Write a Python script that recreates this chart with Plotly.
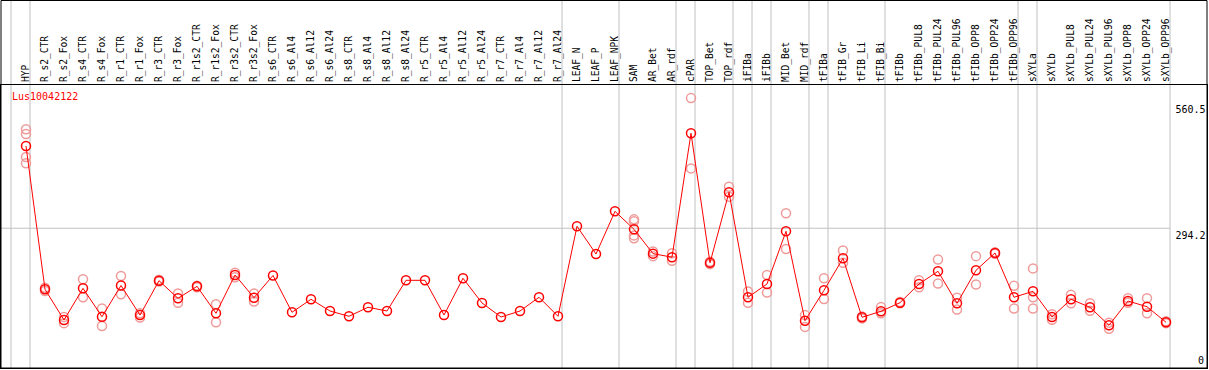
import plotly.graph_objects as go

# ---------------- data ----------------
categories = [
    "HYP", "R_s2_CTR", "R_s2_Fox", "R_s4_CTR", "R_s4_Fox", "R_r1_CTR", "R_r1_Fox",
    "R_r3_CTR", "R_r3_Fox", "R_r1s2_CTR", "R_r1s2_Fox", "R_r3s2_CTR", "R_r3s2_Fox",
    "R_s6_CTR", "R_s6_Al4", "R_s6_Al12", "R_s6_Al24", "R_s8_CTR", "R_s8_Al4",
    "R_s8_Al12", "R_s8_Al24", "R_r5_CTR", "R_r5_Al4", "R_r5_Al12", "R_r5_Al24",
    "R_r7_CTR", "R_r7_Al4", "R_r7_Al12", "R_r7_Al24", "LEAF_N", "LEAF_P", "LEAF_NPK",
    "SAM", "AR_Bet", "AR_rdf", "cPAR", "TOP_Bet", "TOP_rdf", "iFIBa", "iFIBb",
    "MID_Bet", "MID_rdf", "tFIBa", "tFIB_Gr", "tFIB_Li", "tFIB_Bi", "tFIBb",
    "tFIBb_PUL8", "tFIBb_PUL24", "tFIBb_PUL96", "tFIBb_OPP8", "tFIBb_OPP24",
    "tFIBb_OPP96", "sXYLa", "sXYLb", "sXYLb_PUL8", "sXYLb_PUL24", "sXYLb_PUL96",
    "sXYLb_OPP8", "sXYLb_OPP24", "sXYLb_OPP96",
]

mean_values = [
    468.5, 164.7, 99.6, 166.8, 106.6, 172.8, 110.0, 183.0, 145.6, 171.0, 113.8,
    195.0, 146.9, 194.0, 116.0, 143.5, 118.7, 107.5, 126.6, 118.7, 183.8, 183.8,
    110.2, 188.0, 135.7, 106.0, 118.7, 147.8, 107.5, 298.3, 239.6, 330.0,
    291.9, 240.3, 232.8, 495.4, 220.8, 370.4, 147.8, 176.0, 287.7, 98.2, 162.6,
    230.4, 105.4, 118.1, 136.3, 176.0, 202.9, 135.0, 205.0, 241.7, 147.8, 160.5,
    106.0, 143.5, 126.6, 88.4, 139.9, 127.8, 94.8,
]

replicate_values = [
    [504, 494, 445, 432], [168, 161], [106, 93], [186, 148], [124, 87], [193, 154],
    [114, 105], [185, 181], [156, 136], [172, 169], [133, 95], [200, 190], [156, 139],
    [], [], [], [], [], [], [], [], [], [], [], [], [], [], [], [], [], [], [],
    [313, 309, 279, 273], [245, 235], [241, 225], [570, 421], [223, 218], [382, 361],
    [160, 136], [195, 158], [326, 250], [110, 85], [188, 144], [247, 221], [107, 103],
    [127, 114], [138, 135], [184, 169], [228, 177], [147, 122], [235, 175], [243, 240],
    [172, 124], [209, 148, 124], [112, 100], [153, 135], [135, 119], [94, 81],
    [146, 136], [146, 114], [97, 93],
]

# separators are drawn just after these categories ("" = before the first one)
group_ends = ["", "HYP", "R_r7_Al24", "LEAF_NPK", "AR_rdf", "cPAR", "TOP_rdf", "iFIBa",
              "iFIBb", "MID_rdf", "tFIBa", "tFIB_Bi", "tFIBb_OPP96", "sXYLa", "sXYLb_OPP96"]

y_tick_values = [294.2, 560.5]
y_tick_labels = ["294.2", "560.5"]
y_zero_tick = [0]
gene_name = "Lus10042122"

# ---------------- figure ----------------
FONT = "DejaVu Sans Mono"
GRID = "#c0c0c0"
SEP_OFFSET = 4 / 19

rep_x, rep_y = [], []
for c, reps in zip(categories, replicate_values):
    for v in reps:
        rep_x.append(c)
        rep_y.append(v)

fig = go.Figure()
fig.add_trace(go.Scatter(
    x=rep_x, y=rep_y, mode="markers",
    marker=dict(symbol="circle-open", size=9, color="#f09a9a", line=dict(width=1.5)),
    hoverinfo="skip", showlegend=False, yaxis="y", cliponaxis=False,
))
fig.add_trace(go.Scatter(
    x=categories, y=mean_values, mode="lines+markers",
    line=dict(color="#ff0000", width=1),
    marker=dict(symbol="circle-open", size=9, color="#ff0000", line=dict(width=1.5)),
    showlegend=False, yaxis="y2", cliponaxis=False,
))

x_lo = -25 / 19
x_hi = 1181 / 19
y_lo, y_hi = -2.12, 597.8

shapes = []
for g in group_ends:
    idx = -1 if g == "" else categories.index(g)
    xpos = idx + SEP_OFFSET
    shapes.append(dict(type="line", xref="x", yref="paper", x0=xpos, x1=xpos,
                       y0=0, y1=1 + 85 / 283, line=dict(color=GRID, width=1), layer="below"))
# horizontal gridline at the middle tick, up to the last separator
last_sep = categories.index(group_ends[-1]) + SEP_OFFSET
shapes.append(dict(type="line", xref="x", yref="y", x0=x_lo, x1=last_sep,
                   y0=y_tick_values[0], y1=y_tick_values[0],
                   line=dict(color=GRID, width=1), layer="below"))
# outer frame (including header band)
shapes.append(dict(type="rect", xref="paper", yref="paper", x0=0, x1=1, y0=0,
                   y1=1 + 84.5 / 283, line=dict(color="black", width=1), layer="above"))

fig.update_layout(
    width=1209, height=370,
    margin=dict(l=1, r=2, t=85, b=2, autoexpand=False),
    paper_bgcolor="white", plot_bgcolor="white",
    font=dict(family=FONT, size=10, color="black"),
    xaxis=dict(
        type="category", categoryorder="array", categoryarray=categories,
        range=[x_lo, x_hi], side="top", tickangle=-90, ticks="",
        tickfont=dict(family=FONT, size=9.6, color="black"),
        showgrid=False, zeroline=False, showline=True, linecolor="black",
        linewidth=1, mirror=True, automargin=False,
    ),
    yaxis=dict(
        range=[y_lo, y_hi], side="right", tickvals=y_tick_values, ticktext=y_tick_labels,
        ticklabelposition="inside bottom", ticks="", showgrid=False, zeroline=False,
        showline=True, linecolor="black", mirror=True, automargin=False,
        tickfont=dict(family=FONT, size=10, color="black"),
    ),
    yaxis2=dict(
        range=[y_lo, y_hi], side="right", overlaying="y", tickvals=y_zero_tick,
        ticktext=["0"], ticklabelposition="inside top", ticks="", showgrid=False,
        zeroline=False, showline=False, automargin=False,
        tickfont=dict(family=FONT, size=10, color="black"),
    ),
    shapes=shapes,
    annotations=[dict(
        text=gene_name, xref="paper", yref="paper", x=9 / 1206, y=1 - 12 / 283,
        xanchor="left", yanchor="middle", showarrow=False,
        font=dict(family=FONT, size=10, color="#ff0000"),
    )],
)

fig.write_html(
    "out.html",
    config={"displayModeBar": False},
    post_script="document.body.style.margin='0';document.body.style.overflow='hidden';",
)
